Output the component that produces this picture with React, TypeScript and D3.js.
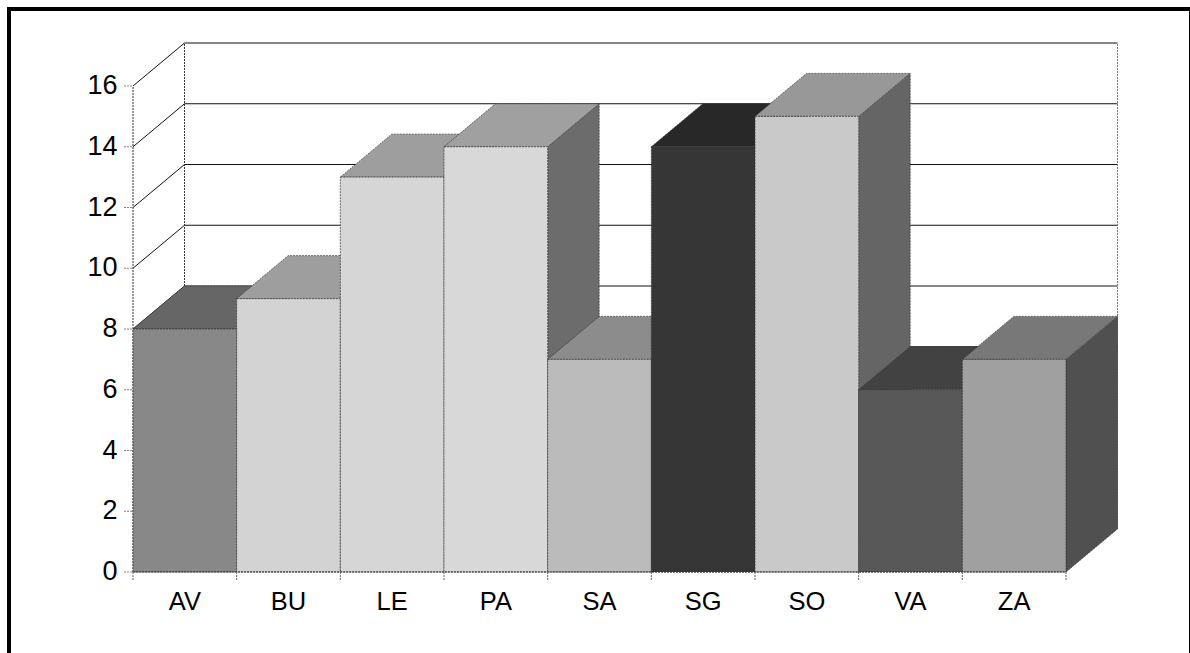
import React from 'react';
import * as d3 from 'd3';

const categories = ['AV', 'BU', 'LE', 'PA', 'SA', 'SG', 'SO', 'VA', 'ZA'];
const values = [8, 9, 13, 14, 7, 14, 15, 6, 7];
const yTicks = [0, 2, 4, 6, 8, 10, 12, 14, 16];

// greys: front, top, side
const frontColors = ['#888888', '#d3d3d3', '#d6d6d6', '#d8d8d8', '#bbbbbb', '#363636', '#c9c9c9', '#585858', '#a0a0a0'];
const topColors = ['#666666', '#9e9e9e', '#9e9e9e', '#a0a0a0', '#8c8c8c', '#282828', '#989898', '#424242', '#787878'];
const sideColors = ['#444444', '#696969', '#6b6b6b', '#6c6c6c', '#5d5d5d', '#1b1b1b', '#656565', '#2c2c2c', '#505050'];

const width = 1190;
const height = 653;
const margin = { left: 133, right: 1066, top: 86, bottom: 572 };
const depthX = 51.5;
const depthY = 43;

const DASH = '2 1';
const EDGE = '#333';

export default function App() {
  const x = d3.scaleBand<string>().domain(categories).range([margin.left, margin.right]);
  const y = d3.scaleLinear().domain([0, 16]).range([margin.bottom, margin.top]);
  const bw = x.bandwidth();
  const line = d3.line();

  // back wall gridlines, skipping the zero line on the floor
  const grid = yTicks.filter(t => t > 0);

  return (
    <svg
      width={width}
      height={height}
      style={{ position: 'absolute', left: 0, top: 0, display: 'block', background: '#fff' }}
      fontFamily="'Liberation Sans', Arial, sans-serif"
    >
      {/* frame */}
      <rect x={9} y={9} width={1182} height={660} fill="none" stroke="#000" strokeWidth={4} />

      {/* walls */}
      <g fill="none" stroke="#111" strokeWidth={1}>
        {grid.map(t => (
          <g key={t}>
            <path d={line([[margin.left, y(t)], [margin.left + depthX, y(t) - depthY]]) || ''} />
            <path d={line([[margin.left + depthX, y(t) - depthY], [margin.right + depthX, y(t) - depthY]]) || ''} />
          </g>
        ))}
        <path d={line([[margin.left, y(0)], [margin.left, y(16)]]) || ''} strokeDasharray={DASH} stroke={EDGE} />
        <path d={line([[margin.left + depthX, y(0) - depthY], [margin.left + depthX, y(16) - depthY]]) || ''} strokeDasharray={DASH} stroke={EDGE} />
        <path d={line([[margin.right + depthX, y(0) - depthY], [margin.right + depthX, y(16) - depthY]]) || ''} strokeDasharray={DASH} stroke="#777" />
      </g>

      {/* bars, painted left to right so each one covers its neighbour's side */}
      {categories.map((c, i) => {
        const x0 = x(c) as number;
        const x1 = x0 + bw;
        const yTop = y(values[i]);
        const yBase = y(0);
        const top: [number, number][] = [[x0, yTop], [x0 + depthX, yTop - depthY], [x1 + depthX, yTop - depthY], [x1, yTop]];
        const side: [number, number][] = [[x1, yTop], [x1 + depthX, yTop - depthY], [x1 + depthX, yBase - depthY], [x1, yBase]];
        return (
          <g key={c} stroke={EDGE} strokeWidth={0.7} strokeDasharray={DASH}>
            <path d={(line(side) || '') + 'Z'} fill={sideColors[i]} />
            <path d={(line(top) || '') + 'Z'} fill={topColors[i]} />
            <rect x={x0} y={yTop} width={bw} height={yBase - yTop} fill={frontColors[i]} />
          </g>
        );
      })}

      {/* y axis */}
      {yTicks.map(t => (
        <g key={t}>
          <line x1={124} x2={margin.left} y1={y(t)} y2={y(t)} stroke="#888" strokeDasharray={DASH} />
          <text x={117.5} y={y(t) + 8} textAnchor="end" fontSize={27} fill="#000">{t}</text>
        </g>
      ))}

      {/* x axis */}
      <line x1={margin.left} x2={margin.right} y1={y(0)} y2={y(0)} stroke={EDGE} strokeDasharray={DASH} />
      {[...categories.map(c => x(c) as number), margin.right].map(px => (
        <line key={px} x1={px} x2={px} y1={y(0)} y2={y(0) + 8} stroke="#666" strokeDasharray={DASH} />
      ))}
      {categories.map(c => (
        <text key={c} x={(x(c) as number) + bw / 2} y={610} textAnchor="middle" fontSize={25.5} fill="#000">{c}</text>
      ))}
    </svg>
  );
}
